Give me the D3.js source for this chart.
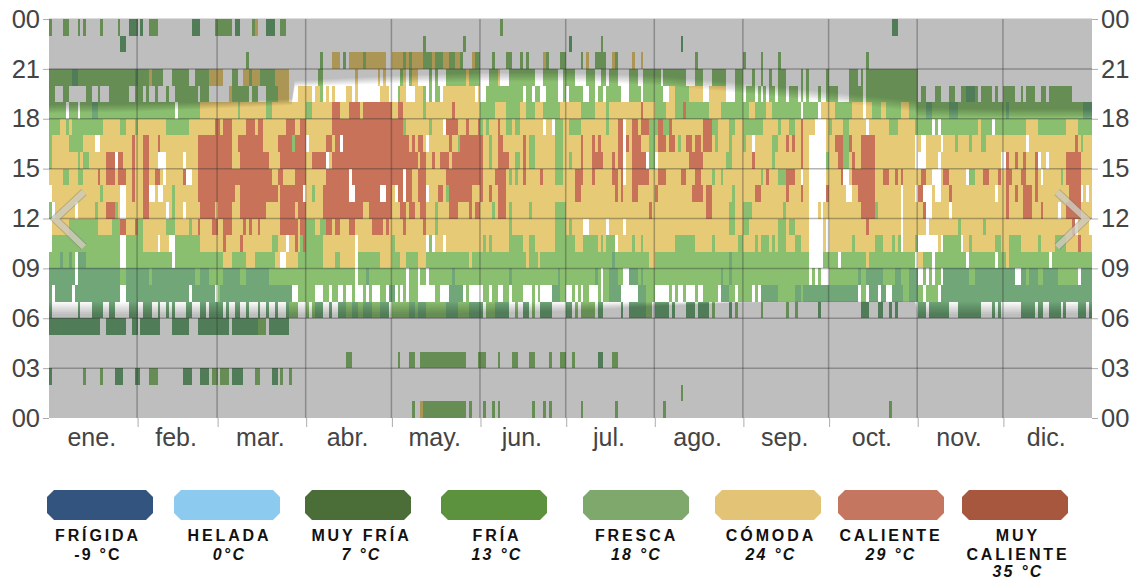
<!DOCTYPE html>
<html>
<head>
<meta charset="utf-8">
<script src="https://cdn.jsdelivr.net/npm/d3@7"></script>
<style>
  html, body { margin: 0; padding: 0; background: #fff; }
  svg { display: block; font-family: "Liberation Sans", Arial, sans-serif; }
</style>
</head>
<body>
<div id="chart"></div>
<script>
// meses y horas
var monthNames = ["ene.", "feb.", "mar.", "abr.", "may.", "jun.", "jul.", "ago.", "sep.", "oct.", "nov.", "dic."];
var monthStarts = [0, 31, 59, 90, 120, 151, 181, 212, 243, 273, 304, 334, 365];
var hourTicks = [0, 3, 6, 9, 12, 15, 18, 21, 24];
var hourLabels = ["00", "03", "06", "09", "12", "15", "18", "21", "00"];

// leyenda
var legendNames = ["FRÍGIDA", "HELADA", "MUY FRÍA", "FRÍA", "FRESCA", "CÓMODA", "CALIENTE", "MUY|CALIENTE"];
var legendTemps = ["-9 °C", "0°C", "7 °C", "13 °C", "18 °C", "24 °C", "29 °C", "35 °C"];
var legendColors = ["#33547f", "#8ccbef", "#4b6d37", "#5c913e", "#7ea86c", "#e3c476", "#c47660", "#a7573e"];
var legendLeft = [47, 174, 305, 441, 583, 715, 838, 962];
var legendCenter = [98, 229.5, 361.5, 497, 636.5, 771, 891, 1018];

// color de cada clase de celda: w sin dato, g fresca, m fría, y cómoda, r caliente
var cellColors = { w: "#ffffff", g: "#8bbf70", m: "#6fa678", y: "#e7ca74", r: "#c8725a" };

// clase de fondo de cada hora (0..23) y tramos de días que la sustituyen
var hourBase = ["w", "w", "w", "w", "w", "w", "w", "w", "g", "g", "g", "y", "y", "y", "y", "y", "y", "y", "g", "w", "w", "w", "w", "w"];

var hour00 = "g127-128 y130-131 g131-146 g147-148 g152-153 g155-156 g157-158 g169-170 g173-174 g175-176 g186-187 g198-199 g215-216 g294-295";
var hour01 = "g221-222";
var hour02 = "m0-1 g12-13 g18-19 m23-26 m30-32 g35-38 m47-50 m53-56 g57-59 g60-63 m64-68 g72-74 m78-80 g81-82 g84-85";
var hour03 = "g104-106 g122-123 g126-128 g130-146 g150-153 g157-158 g162-164 g168-170 g175-176 g179-181 g183-184 m192-194 g197-199";
var hour04 = "";
var hour05 = "m0-18 m20-27 m29-31 m32-35 m35-39 m43-49 m52-63 m64-73 g73-76 m77-84";
var hour06 = "m0-1 m10-11 m15-18 m18-19 m21-23 m28-31 m33-34 m34-36 m38-39 m41-42 m43-44 m48-50 m53-55 m56-60 m60-61 m62-63 m65-67 m69-70 m73-74 m76-77 m79-80 m83-84 g84-87 g90-91 g92-93 m93-96 m98-99 m101-104 g104-106 m106-108 g108-110 m110-113 g113-116 " +
    "m116-119 g120-126 m126-128 g128-129 m129-132 g132-139 m139-143 g143-147 m147-152 g153-156 m156-161 g163-164 m166-168 g169-170 m172-176 m181-183 g184-185 g186-191 m192-194 m200-201 m203-206 m206-209 g209-211 m212-217 m218-219 m223-226 m227-229 m229-231 g232-233 m238-239 g240-241 " +
    "g249-250 g258-259 g261-262 m269-270 m284-287 m290-292 m294-295 m296-297 m304-307 m308-315 m318-319 m319-326 m330-331 m332-333 m340-341 m341-345 m346-348 m350-353 m353-354 m355-356 m360-363 m364-365";
var hour07 = "m0-1 m2-8 m9-25 m27-49 m50-58 g59-60 m60-85 g87-93 g96-98 g99-101 g103-104 g106-107 g110-111 g112-113 g116-117 g119-120 " +
    "g117-118 m119-121 g122-123 g124-125 g126-129 g135-137 m140-145 g146-147 g152-154 g155-157 g159-161 g162-166 g169-170 g171-172 m176-179 g179-181 g183-184 g185-186 g187-189 g192-193 g194-196 m196-200 m206-209 g209-212 g217-218 g219-220 g222-223 g226-227 g229-230 g230-234 m235-238 g238-240 g241-246 g247-248 " +
    "m249-255 g255-261 m261-263 g263-264 m264-283 g284-285 g285-286 m287-290 m291-293 m295-299 g299-301 m301-304 g304-306 g307-311 m312-365";
var hour08 = "m0-25 w9-10 m27-35 m36-51 m53-56 m61-67 m69-77 w107-108 m111-112 w125-126 w129-130 w132-133 m141-142 m161-162 m178-179 m191-192 w193-194 m196-199 w201-203 m203-206 m207-208 m235-236 m238-239 " +
    "w266-267 w268-269 w270-273 m283-284 m286-292 m296-298 m301-304 w304-306 w307-308 w309-310 w312-313 m313-322 m324-330 m330-338 w338-340 m340-342 m343-346 m348-353 w360-361 m361-365";
var hour09 = "m4-5 m7-8 w9-10 m10-13 w25-27 w43-44 y61-64 y69-72 y79-87 w81-83 y96-100 y102-107 w107-108 y116-120 y123-125 y129-132 y147-148 y167-168 y171-172 m197-198 y210-212 m238-239 w266-271 w276-277 y286-287 w303-304 y304-306 w309-310 w321-322 w331-332 y335-336 w350-351";
var hour10 = "w0-1 w25-27 y33-38 w38-39 y39-42 w42-44 y53-61 r61-62 y62-67 r67-68 y68-78 y80-83 w83-84 y84-86 r86-87 y87-88 r89-90 y96-107 w107-108 y108-120 g120-121 y121-132 w132-133 w134-135 y135-138 w138-139 y139-152 g152-153 y153-154 y155-161 y166-168 y170-177 y184-187 y192-193 y194-195 w198-199 y199-204 y205-207 y208-215 y215-219 y226-232 y233-241 y243-247 y248-249 " +
    "y252-253 y254-255 y258-261 y263-266 w266-271 y271-272 w272-273 y273-281 y282-289 y292-295 y296-297 w298-299 y299-303 w304-307 w307-311 y311-312 w312-313 w319-320 y320-322 y323-331 y333-336 y340-346 y347-352 y356-360 r360-361 y361-365";
var hour11 = "w0-1 g7-17 g22-25 r25-27 r30-31 g31-33 g41-44 g49-50 r52-53 r57-59 r61-64 r68-69 r70-71 r73-74 r81-87 r88-90 g90-93 g95-97 r97-99 r100-102 r105-107 r113-116 r116-117 r118-119 r124-125 r131-132 g135-136 g161-162 g177-181 g182-183 w187-189 w195-196 w201-202 g238-240 g243-245 g255-258 g259-261 w266-271 w272-273 r286-287 w298-299 w307-308 g318-319 g327-328 r358-359 w359-360 w364-365";
var hour12 = "g0-1 w1-2 w9-10 g16-17 r20-23 g23-24 w25-27 r33-35 w41-42 g43-44 w47-48 r53-58 r59-64 r67-76 r81-86 r87-90 r96-110 r112-120 r123-125 r126-128 r130-132 g135-136 r140-143 r147-148 r149-151 g155-156 r157-160 g161-162 g168-169 g177-181 r210-211 r230-232 g238-240 g243-246 g257-258 w266-269 w270-271 r284-289 g289-290 w298-299 r306-307 w307-309 w315-316 r335-336 r341-344 r347-348 w353-354 r356-361";
var hour13 = "w0-1 g18-19 w25-27 r29-30 r33-35 w35-37 w38-40 g43-44 r52-65 r67-80 r81-89 w89-90 g92-93 r96-105 w105-107 r107-116 w116-118 r118-120 w121-122 r122-124 w124-125 r125-127 r129-132 w132-133 r136-138 g139-140 r140-148 r151-152 r154-155 r157-160 r184-186 r198-199 r200-201 r204-206 r212-213 r225-229 r230-232 g239-240 r247-249 r258-259 r263-264 w266-272 r272-273 w279-281 r283-289 w298-299 w303-304 r304-306 w306-309 w310-312 r315-316 w331-332 r335-336 r338-339 r341-344 r345-346 r357-361 w361-362 w363-364";
var hour14 = "g5-7 g10-12 r17-18 r20-23 r24-27 r29-30 r33-35 r37-39 w40-41 r47-48 w48-50 r52-78 r80-82 r86-90 r97-105 w105-106 r106-120 r120-124 w124-125 r125-127 r129-132 r139-152 r156-160 g161-162 g163-164 r166-167 r172-173 g177-180 r184-187 r190-191 r197-199 r200-201 w201-202 r204-209 r209-210 r213-215 r215-216 r221-223 r226-228 g232-233 g235-236 g249-250 r251-252 g255-258 r258-261 w263-264 w266-272 r277-278 w278-280 r281-289 r292-294 r296-297 r298-299 r305-307 w309-312 r313-314 r314-315 w321-322 g322-324 r327-329 r332-333 r335-337 r340-342 r345-346 w347-348 g354-355 r356-361";
var hour15 = "g0-1 g10-11 g12-14 r20-23 w23-24 r24-26 r29-30 r33-35 w38-41 w47-48 r52-64 r67-77 r81-90 r92-97 w97-98 r99-129 r130-132 r134-135 r137-140 r141-152 g154-155 r157-161 g163-165 r166-167 g168-170 g177-180 g182-183 r186-187 r190-194 r197-198 r199-201 w201-202 r204-209 w209-210 g210-212 w212-213 r224-229 g237-239 r246-247 g253-254 r263-264 w266-272 g272-273 r276-278 g278-280 r281-282 r284-289 w303-307 w311-312 w333-335 r335-336 r338-339 r341-342 r345-346 w346-347 w349-350 r356-361";
var hour16 = "g0-1 g7-12 w16-18 r29-30 r33-35 r38-39 r52-64 r66-75 r80-85 g85-86 r86-90 w90-91 r97-99 r100-126 w102-103 r127-128 r129-131 w132-133 r140-141 g143-144 r144-152 g154-155 r157-159 r166-167 g168-170 g177-180 r186-187 r190-191 r192-193 r199-201 w201-202 r202-203 r204-207 g210-212 r213-215 r215-216 r217-219 g220-221 r223-225 r226-228 r229-232 g233-234 g238-239 g243-244 w246-247 g253-255 r258-259 r260-261 r263-264 w266-269 w269-272 r275-278 g278-280 r280-281 r284-289 w303-304 w305-307 w312-313 g317-318 g322-323 g326-328 w342-343 r359-360 g361-362";
var hour17 = "g0-4 g6-7 g8-19 g25-27 g30-31 g41-48 g48-49 r58-60 r61-64 r69-72 r73-75 r83-86 r88-90 r99-124 g124-125 g133-134 w138-139 r139-143 r146-147 r150-151 g151-152 g153-154 r157-158 g160-162 g163-165 w173-174 w176-177 g177-180 g182-186 g195-196 r199-201 w201-202 r204-206 r207-210 g210-213 r213-215 g215-217 r217-218 r229-232 g232-234 g238-240 g243-250 g255-256 g259-261 r263-264 w268-272 g273-274 g278-280 w286-287 g294-297 g303-325 g326-342 g346-356 g360-365 w309-310 w311-312 w330-331";
var hour18 = "w6-7 w10-11 m15-17 w44-45 y53-66 y67-76 y78-90 y92-99 r99-102 y102-105 r105-109 y109-110 r110-120 y120-122 r122-124 y124-131 y132-141 r141-142 y142-151 y156-160 y165-167 y170-173 y179-186 y191-195 y196-207 r207-208 y208-212 y216-219 r222-223 y231-235 y245-247 y251-253 w263-264 w269-270 y270-275 y281-288 w285-286 y291-293 y298-301 m307-309 m315-318 m335-336 m362-365";
var hour19 = "g0-2 g5-7 g13-15 g17-18 g21-22 g22-28 g30-33 g34-35 g37-38 g41-42 g44-52 g53-56 y63-64 g64-70 g71-73 g76-80 y80-84 y87-92 y93-95 g95-96 y97-98 y99-100 y104-106 y107-108 y116-119 g122-123 y123-125 y128-131 g131-132 g133-134 g135-137 y138-140 y140-147 y147-149 y150-151 " +
    "g153-160 g160-166 g167-169 g170-172 g174-178 g180-181 g182-184 g184-187 g189-191 g192-194 g195-200 g203-207 g208-215 y217-219 g219-224 y224-229 y231-237 g240-243 g244-247 g248-249 g250-251 g252-254 g255-258 g259-261 g261-262 g263-264 g265-266 g269-270 g272-275 g275-276 g280-284 g284-285 g286-304 " +
    "g305-307 g310-312 g315-317 g319-325 m321-324 g326-330 g331-332 g334-338 g340-341 g342-345 g347-349 g350-358";
var hour20 = "g0-8 m8-10 g10-30 m30-31 g31-35 y35-36 g36-40 g43-49 g51-56 y56-61 g64-66 y68-70 g70-71 y71-74 g74-79 y79-84 g94-96 y107-108 y115-116 y117-118 g123-124 y124-125 g126-127 y127-129 g133-134 g135-136 g139-146 y146-147 g147-151 " +
    "g154-157 y157-158 g161-170 g173-178 g180-184 g188-191 g193-195 g196-199 g203-206 g208-214 g215-223 g226-229 g232-237 g240-243 g246-247 g249-250 g252-253 g255-258 g263-264 g265-266 g272-273 g280-283 g284-285 g286-304";
var hour21 = "g69-70 g95-96 y99-102 g103-104 y105-110 g110-111 y111-118 y120-124 g124-125 y125-126 g126-127 y127-131 g131-134 y134-135 g135-138 y138-140 g140-142 y142-144 g144-145 y148-149 g149-151 g155-156 g160-162 g165-166 g167-168 y173-174 g174-175 g179-181 g186-187 y188-189 g191-195 y197-198 g198-199 y204-205 y207-208 g226-227 g243-244 g249-250 g255-256 g286-287";
var hour22 = "m25-27 g131-132 g145-146 m182-183 g193-194 m221-222";
var hour23 = "g0-1 g5-7 g10-11 g12-13 g18-19 g24-25 m28-31 m32-33 g35-38 m50-53 g58-64 m65-67 g71-72 y72-73 m76-79 g81-83 g158-159 m295-297";
var hourCells = [hour00, hour01, hour02, hour03, hour04, hour05, hour06, hour07, hour08, hour09, hour10, hour11,
    hour12, hour13, hour14, hour15, hour16, hour17, hour18, hour19, hour20, hour21, hour22, hour23];

// noche: horas de borde pleno y de fin del crepúsculo a lo largo del año
var twilightDays = [0, 31, 59, 85, 86, 120, 151, 181, 212, 243, 273, 303, 304, 334, 365];
var duskSolid = [18.85, 18.9, 19.05, 19.2, 20.3, 20.6, 20.8, 20.8, 20.6, 20.15, 19.6, 19.1, 18.7, 18.6, 18.6];
var duskFade = [18.3, 18.4, 18.6, 18.8, 19.9, 20.1, 20.2, 20.2, 20.0, 19.5, 19.0, 18.4, 18.1, 18.05, 18.05];
var dawnSolid = [6.2, 6.2, 6.2, 6.2, 6.2, 6.2, 6.3, 6.4, 6.7, 6.95, 7, 7, 6.2, 6.2, 6.3];
var dawnFade = [7, 7, 7, 7, 7, 7, 7, 7, 7, 7, 7, 7, 7, 7, 7];

var width = 1136, height = 580;
var left = 49, right = 1092, top_ = 19, bottom = 418;

var svg = d3.select("#chart").append("svg")
    .attr("width", width)
    .attr("height", height);

// desenfoque ligero, el original es una imagen ampliada
var defs = svg.append("defs");
defs.append("filter").attr("id", "soft")
    .attr("x", "0").attr("y", "0").attr("width", "1").attr("height", "1")
    .append("feGaussianBlur").attr("stdDeviation", 0.55);

var x = d3.scaleLinear().domain([0, 365]).range([left, right]);
var y = d3.scaleLinear().domain([0, 24]).range([bottom, top_]);

// tramos por hora
var cells = [];
hourCells.forEach(function (row, h) {
    cells.push({ hour: h, start: 0, end: 365, cat: hourBase[h] });
    row.split(" ").forEach(function (tok) {
        var m = /^([a-z])(\d+)-(\d+)$/.exec(tok);
        if (m) cells.push({ hour: h, start: +m[2], end: +m[3], cat: m[1] });
    });
});

var plot = svg.append("g").attr("filter", "url(#soft)");

plot.append("g").selectAll("rect")
    .data(cells)
    .enter()
    .append("rect")
    .attr("x", function (d) { return x(d.start); })
    .attr("y", function (d) { return y(d.hour + 1); })
    .attr("width", function (d) { return x(d.end) - x(d.start); })
    .attr("height", function (d) { return y(d.hour) - y(d.hour + 1); })
    .attr("fill", function (d) { return cellColors[d.cat]; })
    .attr("shape-rendering", "crispEdges");

// capa de noche, negro translúcido encima de las celdas
// (las capas pierden algo por redondeo de 8 bits, por eso alfa algo menor)
var nightAlpha = 0.235;
var bands = 7;
var bandAlpha = 1 - Math.pow(1 - nightAlpha, 1 / bands);

function nightLayers(g, solid, fade, edgeHour) {
    d3.range(bands).forEach(function (k) {
        var t = (k + 0.5) / bands;
        var area = d3.area()
            .x(function (d) { return x(d); })
            .y0(y(edgeHour))
            .y1(function (d, i) { return y(solid[i] + (fade[i] - solid[i]) * t); });
        g.append("path")
            .attr("d", area(twilightDays))
            .attr("fill", "#000")
            .attr("fill-opacity", bandAlpha);
    });
}
var night = plot.append("g");
nightLayers(night, duskSolid, duskFade, 24);
nightLayers(night, dawnSolid, dawnFade, 0);

// rejilla
var grid = plot.append("g").attr("stroke", "#333").attr("stroke-opacity", 0.36).attr("stroke-width", 1.5);
grid.selectAll("line.h")
    .data(hourTicks.slice(1, -1))
    .enter()
    .append("line")
    .attr("x1", left).attr("x2", right)
    .attr("y1", function (d) { return y(d); })
    .attr("y2", function (d) { return y(d); });
grid.selectAll("line.v")
    .data(monthStarts.slice(1, -1))
    .enter()
    .append("line")
    .attr("y1", top_).attr("y2", bottom)
    .attr("x1", function (d) { return x(d) - 0.5; })
    .attr("x2", function (d) { return x(d) - 0.5; });
svg.append("line")
    .attr("x1", left).attr("x2", right)
    .attr("y1", top_ - 0.5).attr("y2", top_ - 0.5)
    .attr("stroke", "#ddd");

// ejes
function styleAxis(g) {
    g.select(".domain").remove();
    g.selectAll("line").attr("stroke", "#333").attr("stroke-opacity", 0.4);
    g.selectAll("text").attr("fill", "#444").attr("font-size", 25.5)
        .attr("font-family", '"Liberation Sans", Arial, sans-serif');
}
var hourFormat = function (d, i) { return hourLabels[i]; };
svg.append("g")
    .attr("transform", "translate(" + left + ",0)")
    .call(d3.axisLeft(y).tickValues(hourTicks).tickFormat(hourFormat).tickSize(6).tickPadding(3))
    .call(styleAxis);
svg.append("g")
    .attr("transform", "translate(" + right + ",0)")
    .call(d3.axisRight(y).tickValues(hourTicks).tickFormat(hourFormat).tickSize(6).tickPadding(3))
    .call(styleAxis);
svg.append("g")
    .attr("transform", "translate(0," + bottom + ")")
    .call(d3.axisBottom(x).tickValues(monthStarts.slice(1, -1)).tickFormat("").tickSize(9))
    .call(styleAxis);

svg.append("g").selectAll("text")
    .data(monthNames)
    .enter()
    .append("text")
    .attr("x", function (d, i) { return x((monthStarts[i] + monthStarts[i + 1]) / 2) - 1.5; })
    .attr("y", 446)
    .attr("text-anchor", "middle")
    .attr("font-size", 25)
    .attr("fill", "#444")
    .text(function (d) { return d; });

// flechas del carrusel
var chevron = d3.line();
[[[84, 192], [55, 219], [84, 247]], [[1057, 192], [1086, 219], [1057, 247]]].forEach(function (pts) {
    svg.append("path").attr("d", chevron(pts)).attr("fill", "none")
        .attr("stroke", "#777").attr("stroke-opacity", 0.4).attr("stroke-width", 8);
    svg.append("path").attr("d", chevron(pts)).attr("fill", "none")
        .attr("stroke", "#ddd8c8").attr("stroke-opacity", 0.7).attr("stroke-width", 6);
});

// leyenda
var chipW = 106, chipH = 30, cut = 7;
var legend = svg.append("g").selectAll("g")
    .data(legendNames)
    .enter()
    .append("g")
    .attr("transform", function (d, i) { return "translate(" + legendLeft[i] + ",490)"; });
legend.append("path")
    .attr("d", d3.line()([[cut, 0], [chipW - cut, 0], [chipW, cut], [chipW, chipH - cut], [chipW - cut, chipH], [cut, chipH], [0, chipH - cut], [0, cut]]) + "Z")
    .attr("fill", function (d, i) { return legendColors[i]; });
legend.each(function (d, i) {
    var g = d3.select(this);
    var cx = legendCenter[i] - legendLeft[i];
    var lines = d.split("|");
    lines.forEach(function (t, j) {
        g.append("text")
            .attr("x", cx)
            .attr("y", 51 + j * 19)
            .attr("text-anchor", "middle")
            .attr("font-size", 16)
            .attr("font-weight", "bold")
            .attr("letter-spacing", 2.9)
            .attr("fill", "#111")
            .text(t);
    });
    g.append("text")
        .attr("x", cx)
        .attr("y", lines.length > 1 ? 86.5 : 70)
        .attr("text-anchor", "middle")
        .attr("font-size", 16)
        .attr("font-weight", "bold")
        .attr("font-style", i === 0 ? "normal" : "italic")
        .attr("letter-spacing", 2.2)
        .attr("fill", "#111")
        .text(legendTemps[i]);
});
</script>
</body>
</html>
